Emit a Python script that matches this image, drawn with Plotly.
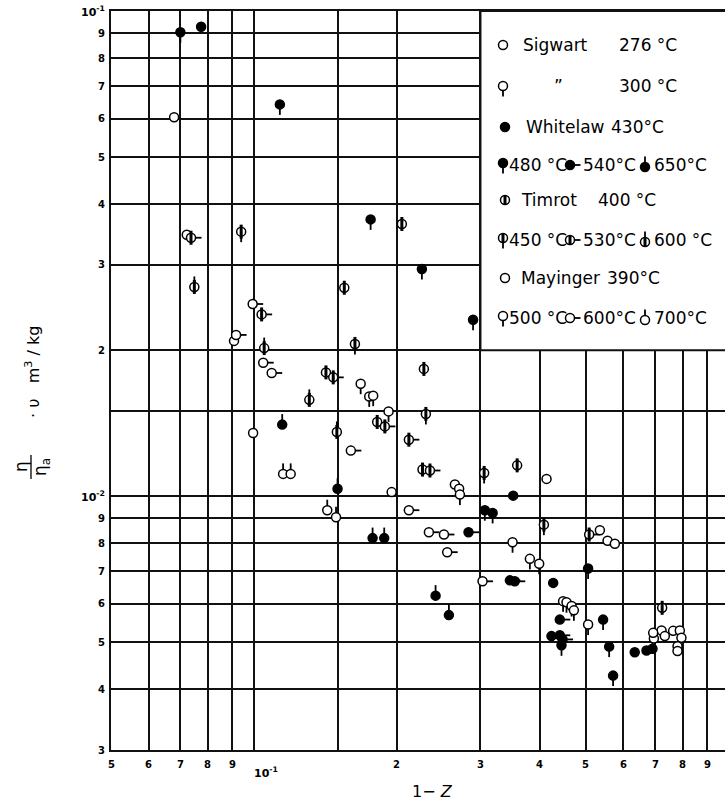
import math
import plotly.graph_objects as go

# ---------------- data : x = 1 - Z , y = eta/eta_a * v  [m3/kg] ----------------
S276_X = [0.0679, 0.0722, 0.0908, 0.0996, 0.195]
S276_Y = [0.0604, 0.0346, 0.0209, 0.0135, 0.0102]
S300_X = [0.1678, 0.1749, 0.1783, 0.1921]
S300_Y = [0.01706, 0.01606, 0.01612, 0.01496]
W430_X = [0.0774, 0.3516, 0.4268, 0.6339, 0.6711, 0.4233]
W430_Y = [0.0928, 0.01003, 0.00663, 0.00477, 0.00481, 0.00515]
W480_X = [0.0700, 0.1134, 0.1761, 0.2258, 0.2894, 0.3064, 0.3182, 0.5056, 0.5437, 0.5599, 0.5707, 0.4444]
W480_Y = [0.0904, 0.0642, 0.0372, 0.0294, 0.0231, 0.00936, 0.00924, 0.0071, 0.00557, 0.0049, 0.00427, 0.00493]
W540_X = [0.2831, 0.346, 0.3543, 0.4407, 0.4407, 0.4467]
W540_Y = [0.00843, 0.00671, 0.00668, 0.00557, 0.00517, 0.00507]
W650_X = [0.1147, 0.150, 0.1778, 0.1881, 0.2413, 0.2574, 0.6908]
W650_Y = [0.01405, 0.01036, 0.0082, 0.0082, 0.00624, 0.00569, 0.00485]
T400_X = [0.2049, 0.155, 0.228, 0.1418, 0.1818, 0.2265, 0.3584, 0.724]
T400_Y = [0.0364, 0.0269, 0.0183, 0.018, 0.01423, 0.01135, 0.01158, 0.00589]
T450_X = [0.094, 0.1632, 0.2302, 0.3054, 0.408]
T450_Y = [0.0351, 0.0206, 0.01478, 0.01117, 0.00874]
T530_X = [0.0737, 0.1038, 0.1469, 0.1887, 0.212, 0.2348, 0.5082]
T530_Y = [0.0341, 0.0237, 0.01758, 0.01393, 0.01308, 0.0113, 0.00834]
T600_X = [0.0749, 0.1051, 0.1308, 0.1495]
T600_Y = [0.027, 0.0202, 0.0158, 0.01357]
M390_X = [0.4133, 0.5353, 0.5556, 0.5756, 0.265, 0.2705, 0.7219, 0.7334, 0.7636, 0.7888, 0.795, 0.78, 0.78, 0.6955]
M390_Y = [0.01086, 0.00851, 0.0081, 0.00798, 0.01057, 0.01036, 0.00529, 0.00515, 0.00528, 0.00529, 0.00511, 0.00491, 0.0048, 0.00509]
M500_X = [0.2715, 0.3505, 0.3812, 0.3988, 0.4478, 0.4553, 0.4667, 0.4719, 0.5056, 0.6932]
M500_Y = [0.01008, 0.00804, 0.00743, 0.00726, 0.00608, 0.00605, 0.00594, 0.00582, 0.00544, 0.00523]
M600_X = [0.0994, 0.0917, 0.1046, 0.109, 0.16, 0.212, 0.2336, 0.2513, 0.2553, 0.303]
M600_Y = [0.0249, 0.0215, 0.01885, 0.01795, 0.01242, 0.00936, 0.00843, 0.00834, 0.00767, 0.00668]
M700_X = [0.1152, 0.1195, 0.1427, 0.1489]
M700_Y = [0.01112, 0.01112, 0.00936, 0.00905]

X_GRID = [0.05, 0.06, 0.07, 0.08, 0.09, 0.1, 0.15, 0.2, 0.3, 0.4, 0.5, 0.6, 0.7, 0.8, 0.9]
X_TICK_VALS = [0.05, 0.06, 0.07, 0.08, 0.09, 0.1, 0.2, 0.3, 0.4, 0.5, 0.6, 0.7, 0.8, 0.9]
X_TICK_TEXT = ["5", "6", "7", "8", "9", "10<sup>-1</sup>", "2", "3", "4", "5", "6", "7", "8", "9"]
Y_GRID = [0.003, 0.004, 0.005, 0.006, 0.007, 0.008, 0.009, 0.01, 0.015, 0.02,
          0.03, 0.04, 0.05, 0.06, 0.07, 0.08, 0.09, 0.1]
Y_TICK_VALS = [0.003, 0.004, 0.005, 0.006, 0.007, 0.008, 0.009, 0.01,
               0.02, 0.03, 0.04, 0.05, 0.06, 0.07, 0.08, 0.09, 0.1]
Y_TICK_TEXT = ["3", "4", "5", "6", "7", "8", "9", "10<sup>-2</sup>",
               "2", "3", "4", "5", "6", "7", "8", "9", "10<sup>-1</sup>"]

# ---------------- layout geometry ----------------
W, H = 725, 802
ML, MR, MT, MB = 111, 0, 11, 52
PW, PH = W - ML - MR, H - MT - MB
X_MIN, X_MAX = 0.05, 0.982
Y_MIN, Y_MAX = 0.003, 0.1
XR = [math.log10(X_MIN), math.log10(X_MAX)]
YR = [math.log10(Y_MIN), math.log10(Y_MAX)]
PPD_X = PW / (XR[1] - XR[0])
PPD_Y = PH / (YR[1] - YR[0])
TAIL = 10.5  # px
FX = 10 ** (TAIL / PPD_X)
FY = 10 ** (TAIL / PPD_Y)
MS = 9
FONT = "DejaVu Sans"

GROUPS = [
    (S276_X, S276_Y, "open", None),
    (S300_X, S300_Y, "open", "down"),
    (W430_X, W430_Y, "filled", None),
    (W480_X, W480_Y, "filled", "down"),
    (W540_X, W540_Y, "filled", "right"),
    (W650_X, W650_Y, "filled", "up"),
    (T400_X, T400_Y, "half", None),
    (T450_X, T450_Y, "half", "down"),
    (T530_X, T530_Y, "half", "right"),
    (T600_X, T600_Y, "half", "up"),
    (M390_X, M390_Y, "open", None),
    (M500_X, M500_Y, "open", "down"),
    (M600_X, M600_Y, "open", "right"),
    (M700_X, M700_Y, "open", "up"),
]

fig = go.Figure()

# tails first
for xs, ys, kind, tail in GROUPS:
    if tail is None:
        continue
    tx, ty = [], []
    for x, y in zip(xs, ys):
        if tail == "down":
            x2, y2 = x, y / FY
        elif tail == "up":
            x2, y2 = x, y * FY
        else:
            x2, y2 = x * FX, y
        tx += [x, x2, None]
        ty += [y, y2, None]
    fig.add_trace(go.Scatter(x=tx, y=ty, mode="lines",
                             line=dict(color="black", width=1.8),
                             hoverinfo="skip", showlegend=False))

for xs, ys, kind, tail in GROUPS:
    fill = "black" if kind == "filled" else "white"
    fig.add_trace(go.Scatter(x=xs, y=ys, mode="markers", showlegend=False,
                             marker=dict(symbol="circle", size=MS, color=fill,
                                         line=dict(color="black", width=1.5))))
    if kind == "half":
        fig.add_trace(go.Scatter(x=xs, y=ys, mode="markers", showlegend=False,
                                 marker=dict(symbol="line-ns", size=MS + 1,
                                             line=dict(color="black", width=3))))

fig.update_xaxes(type="log", range=XR, tickmode="array", tickvals=X_GRID,
                 showticklabels=False, ticks="", showgrid=True,
                 gridcolor="#111", gridwidth=1.6, showline=True,
                 linecolor="#111", linewidth=2, mirror=True, zeroline=False)
fig.update_yaxes(type="log", range=YR, tickmode="array", tickvals=Y_GRID,
                 showticklabels=False, ticks="", showgrid=True,
                 gridcolor="#111", gridwidth=1.6, showline=True,
                 linecolor="#111", linewidth=2, mirror=False, zeroline=False)


def px2x(px):
    return (px - ML) / PW


def py2y(py):
    return (MT + PH - py) / PH


annotations = []
# x tick labels
for v, t in zip(X_TICK_VALS, X_TICK_TEXT):
    sup = "sup" in t
    annotations.append(dict(x=math.log10(v), xref="x", y=py2y(764), yref="paper",
                            text="<b>" + t + "</b>", showarrow=False,
                            xanchor="center", yanchor="middle",
                            xshift=12 if sup else 0, yshift=-8 if sup else 0,
                            font=dict(family=FONT, size=11 if sup else 10,
                                      color="black")))
# y tick labels
for v, t in zip(Y_TICK_VALS, Y_TICK_TEXT):
    sup = "sup" in t
    annotations.append(dict(x=px2x(107), xref="paper", y=math.log10(v), yref="y",
                            text="<b>" + t + "</b>", showarrow=False,
                            xanchor="right", yanchor="middle",
                            font=dict(family=FONT, size=11 if sup else 10,
                                      color="black")))
# axis titles
annotations.append(dict(x=px2x(432), xref="paper", y=py2y(791), yref="paper",
                        text="1\u2212 <i>Z</i>", showarrow=False,
                        xanchor="center", yanchor="middle",
                        font=dict(family=FONT, size=16, color="black")))
annotations.append(dict(x=px2x(21), xref="paper", y=py2y(467), yref="paper",
                        text="\u03b7", textangle=-90, showarrow=False,
                        xanchor="center", yanchor="middle",
                        font=dict(family=FONT, size=17, color="black")))
annotations.append(dict(x=px2x(41), xref="paper", y=py2y(467), yref="paper",
                        text="\u03b7<sub>a</sub>", textangle=-90, showarrow=False,
                        xanchor="center", yanchor="middle",
                        font=dict(family=FONT, size=17, color="black")))
annotations.append(dict(x=px2x(32), xref="paper", y=py2y(372), yref="paper",
                        text="\u00b7 \u03c5   m<sup>3</sup> / kg", textangle=-90,
                        showarrow=False, xanchor="center", yanchor="middle",
                        font=dict(family=FONT, size=16, color="black")))

shapes = []
shapes.append(dict(type="line", xref="paper", yref="paper",
                   x0=px2x(31), x1=px2x(31), y0=py2y(455), y1=py2y(479),
                   line=dict(color="black", width=1.3)))
# legend box
shapes.append(dict(type="rect", xref="paper", yref="paper", layer="above",
                   x0=(math.log10(0.3) - XR[0]) / (XR[1] - XR[0]), x1=1.03,
                   y0=(math.log10(0.02) - YR[0]) / (YR[1] - YR[0]), y1=1.0,
                   fillcolor="white", line=dict(color="#111", width=2)))


def glyph(px, py, kind, tail):
    ax, ay = px2x(px), py2y(py)
    base = dict(xref="paper", yref="paper", xsizemode="pixel", ysizemode="pixel",
                xanchor=ax, yanchor=ay, layer="above")
    if tail:
        dx, dy = {"down": (0, -TAIL), "up": (0, TAIL), "right": (TAIL, 0)}[tail]
        shapes.append(dict(type="line", x0=0, y0=0, x1=dx, y1=dy,
                           line=dict(color="black", width=1.8), **base))
    r = MS / 2
    shapes.append(dict(type="circle", x0=-r, x1=r, y0=-r, y1=r,
                       fillcolor="black" if kind == "filled" else "white",
                       line=dict(color="black", width=1.5), **base))
    if kind == "half":
        shapes.append(dict(type="line", x0=0, y0=-r - 0.5, x1=0, y1=r + 0.5,
                           line=dict(color="black", width=3), **base))


def ltext(px, py, text):
    annotations.append(dict(x=px2x(px), xref="paper", y=py2y(py), yref="paper",
                            text=text, showarrow=False, xanchor="left",
                            yanchor="middle",
                            font=dict(family=FONT, size=17, color="black")))


glyph(503, 45, "open", None); ltext(521, 45, "Sigwart"); ltext(617, 45, "276 \u00b0C")
glyph(503, 86, "open", "down"); ltext(552, 86, "\u201d"); ltext(617, 86, "300 \u00b0C")
glyph(505, 127, "filled", None); ltext(524, 127, "Whitelaw"); ltext(609, 127, "430\u00b0C")
glyph(503, 163, "filled", "down"); ltext(507, 165, "480 \u00b0C")
glyph(570, 165, "filled", "right"); ltext(581, 165, "540\u00b0C")
glyph(645, 167, "filled", "up"); ltext(652, 165, "650\u00b0C")
glyph(505, 200, "half", None); ltext(519, 200, "Timrot"); ltext(596, 200, "400 \u00b0C")
glyph(503, 238, "half", "down"); ltext(507, 240, "450 \u00b0C")
glyph(570, 240, "half", "right"); ltext(581, 240, "530\u00b0C")
glyph(645, 242, "half", "up"); ltext(652, 240, "600 \u00b0C")
glyph(505, 278, "open", None); ltext(519, 278, "Mayinger"); ltext(605, 278, "390\u00b0C")
glyph(503, 316, "open", "down"); ltext(507, 318, "500 \u00b0C")
glyph(570, 318, "open", "right"); ltext(581, 318, "600\u00b0C")
glyph(645, 320, "open", "up"); ltext(652, 318, "700\u00b0C")

fig.update_layout(width=W, height=H, margin=dict(l=ML, r=MR, t=MT, b=MB, pad=0),
                  paper_bgcolor="white", plot_bgcolor="white",
                  showlegend=False, annotations=annotations, shapes=shapes,
                  font=dict(family=FONT, color="black"))

fig.write_html("out.html", config={"displayModeBar": False},
               post_script="document.body.style.margin='0px';"
                           "document.body.style.padding='0px';"
                           "document.body.style.overflow='hidden';")
